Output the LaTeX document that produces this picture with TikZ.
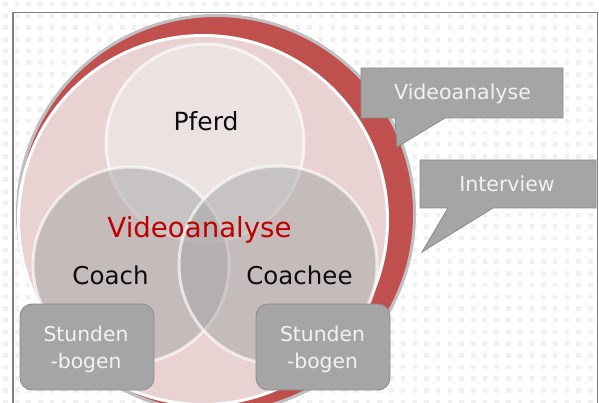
\documentclass[tikz,border=0pt]{standalone}
\usepackage{fontspec}
\setmainfont{DejaVu Sans}
\definecolor{ringred}{HTML}{C0504D}
\definecolor{rimgray}{HTML}{BFBFBF}
\definecolor{pinkbg}{HTML}{E9D2D2}
\definecolor{boxgray}{HTML}{A5A5A5}
\definecolor{boxedge}{HTML}{8C8C8C}
\definecolor{labelred}{HTML}{C00000}
\definecolor{framegray}{HTML}{7F7F7F}
\definecolor{dotgray}{HTML}{F0F0F0}
\definecolor{lighttext}{HTML}{F2F2F2}
\definecolor{pferdfill}{HTML}{F2F2F2}
\begin{document}
\begin{tikzpicture}[x=1pt,y=-1pt,
  callout/.style={fill=boxgray,draw=boxedge,line width=0.8pt,line join=miter},
  stundbox/.style={fill=boxgray,draw=boxedge,line width=0.8pt,rounded corners=12pt,minimum width=134pt,minimum height=86pt,inner sep=0pt},
  venn/.style={line width=3pt,draw=white,draw opacity=0.65},
  lbl/.style={anchor=base,inner sep=0pt,text=black!95},
  boxtxt/.style={anchor=base,inner sep=0pt,text=lighttext,font=\fontsize{20.3}{24}\selectfont},
  calltxt/.style={anchor=base,inner sep=0pt,text=lighttext,font=\fontsize{20.5}{24}\selectfont}]
\useasboundingbox (0,0) rectangle (599,403);
\clip (0,0) rectangle (599,403);
\fill[white] (0,0) rectangle (599,403);
% dotted background
\foreach \i in {0,...,51}{
  \foreach \j in {0,...,34}{
    \fill[dotgray] (3+11.7*\i,2+11.7*\j) rectangle +(4.5,4.5);
  }
}
% frame
\draw[framegray,line width=1.5pt] (13,430) -- (13,12.5) -- (597.5,12.5) -- (597.5,430);
% outer red circle with gray rim
\draw[fill=ringred,draw=rimgray,line width=3pt] (216,214) circle[radius=198.5pt];
% inner pink circle
\draw[fill=pinkbg,draw=white,line width=3pt] (203,220) circle[radius=184.5pt];
% three circles
\path[venn,fill=pferdfill,fill opacity=0.5] (205,143) circle[radius=99pt];
\path[venn,fill=boxgray,fill opacity=0.5] (131,265) circle[radius=98pt];
\path[venn,fill=boxgray,fill opacity=0.5] (278,265) circle[radius=99pt];
% labels
\node[lbl,font=\fontsize{25}{28}\selectfont] (pferd) at (206,131) {Pferd};
\node[lbl,font=\fontsize{27.6}{30}\selectfont,text=labelred] (video) at (199.5,237) {Videoanalyse};
\node[lbl,font=\fontsize{24.5}{28}\selectfont] (coach) at (110.5,284) {Coach};
\node[lbl,font=\fontsize{24.5}{28}\selectfont] (coachee) at (299.5,284) {Coachee};
% callouts
\draw[callout] (361,68) -- (563,68) -- (563,118) -- (445,118) -- (397,147) -- (395,118) -- (361,118) -- cycle;
\node[calltxt] (c1) at (462.5,100) {Videoanalyse};
\draw[callout] (420,160) -- (596,160) -- (596,208) -- (493,208) -- (422,252) -- (448,208) -- (420,208) -- cycle;
\node[calltxt] (c2) at (507,192) {Interview};
% Stunden boxes
\node[stundbox] (sb1) at (87,347) {};
\node[boxtxt] (sb1a) at (86,341) {Stunden};
\node[boxtxt] (sb1b) at (86,368) {-bogen};
\node[stundbox] (sb2) at (323,347) {};
\node[boxtxt] (sb2a) at (322.5,341) {Stunden};
\node[boxtxt] (sb2b) at (322.5,368) {-bogen};
\end{tikzpicture}
\end{document}
